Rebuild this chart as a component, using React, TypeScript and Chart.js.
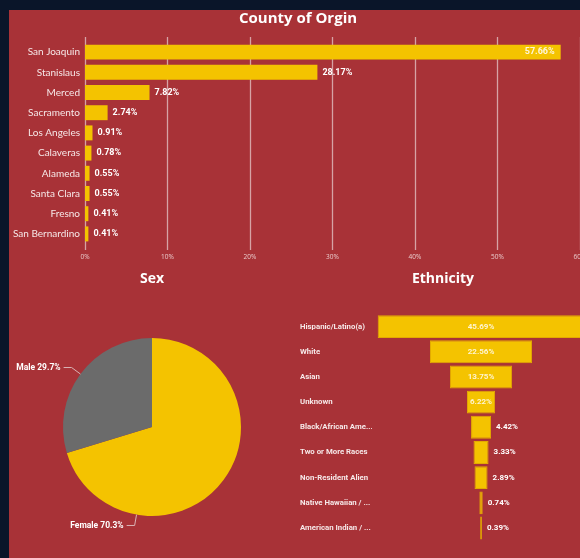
import React, { useEffect, useRef } from "react";
import { Chart, registerables } from "chart.js";

Chart.register(...registerables);

// ---------- data ----------
const countyLabels = [
  "San Joaquin",
  "Stanislaus",
  "Merced",
  "Sacramento",
  "Los Angeles",
  "Calaveras",
  "Alameda",
  "Santa Clara",
  "Fresno",
  "San Bernardino",
];
const countyValues = [57.66, 28.17, 7.82, 2.74, 0.91, 0.78, 0.55, 0.55, 0.41, 0.41];
const countyTickValues = [0, 10, 20, 30, 40, 50, 60];

const sexLabels = ["Female", "Male"];
const sexValues = [70.3, 29.7];

const ethnicityLabels = [
  "Hispanic/Latino(a)",
  "White",
  "Asian",
  "Unknown",
  "Black/African Ame...",
  "Two or More Races",
  "Non-Resident Alien",
  "Native Hawaiian / ...",
  "American Indian / ...",
];
const ethnicityValues = [45.69, 22.56, 13.75, 6.22, 4.42, 3.33, 2.89, 0.74, 0.39];

// ---------- style ----------
const BG = "#0a1529";
const RED = "#a83237";
const YELLOW = "#f4c300";
const GRAY = "#6b6b6b";
const GRID = "#d6a3a5";
const TEXT = "#f6e8e8";
const pieAnchorDeg = [190, 306.5];
// the visible panel is cropped on the right: axis runs a little past the 60% tick
const countyAxisMax = 61.94;

const countyGridPlugin = {
  id: "countyGrid",
  beforeDatasetsDraw(chart: any) {
    const { ctx, chartArea } = chart;
    const xs = chart.scales.x;
    ctx.save();
    ctx.strokeStyle = GRID;
    ctx.lineWidth = 1.3;
    xs.ticks.forEach((t: any) => {
      const px = Math.round(xs.getPixelForValue(t.value)) + 0.5;
      ctx.beginPath();
      ctx.moveTo(px, chartArea.top - 5);
      ctx.lineTo(px, chartArea.bottom + 6);
      ctx.stroke();
    });
    ctx.restore();
  },
};

const countyLabelPlugin = {
  id: "countyLabels",
  afterDatasetsDraw(chart: any) {
    const { ctx } = chart;
    const meta = chart.getDatasetMeta(0);
    const xs = chart.scales.x;
    const limit = xs.getPixelForValue(60);
    ctx.save();
    ctx.font = "bold 9px Roboto";
    ctx.textBaseline = "middle";
    meta.data.forEach((bar: any, i: number) => {
      const text = countyValues[i].toFixed(2) + "%";
      const w = ctx.measureText(text).width;
      if (bar.x + 5 + w > limit - 2) {
        ctx.fillStyle = "rgba(255,255,255,0.85)";
        ctx.textAlign = "right";
        ctx.fillText(text, bar.x - 6, bar.y);
      } else {
        ctx.fillStyle = "#ffffff";
        ctx.textAlign = "left";
        ctx.fillText(text, bar.x + 5, bar.y);
      }
    });
    ctx.restore();
  },
};

const pieLabelPlugin = {
  id: "pieLabels",
  afterDatasetsDraw(chart: any) {
    const { ctx } = chart;
    const meta = chart.getDatasetMeta(0);
    const arc0 = meta.data[0];
    if (!arc0) return;
    const cx = arc0.x;
    const cy = arc0.y;
    const r = arc0.outerRadius;
    ctx.save();
    ctx.font = "bold 8.5px Roboto";
    ctx.textBaseline = "middle";
    ctx.strokeStyle = "#d9b3b4";
    ctx.lineWidth = 1;
    ctx.fillStyle = "#ffffff";
    sexLabels.forEach((lab, i) => {
      const a = (pieAnchorDeg[i] * Math.PI) / 180;
      const ax = cx + r * Math.sin(a);
      const ay = cy - r * Math.cos(a);
      const ex = cx + (r + 11) * Math.sin(a);
      const ey = cy - (r + 11) * Math.cos(a);
      const left = Math.sin(a) < 0;
      const hx = left ? ex - 8 : ex + 8;
      ctx.beginPath();
      ctx.moveTo(ax, ay);
      ctx.lineTo(ex, ey);
      ctx.lineTo(hx, ey);
      ctx.stroke();
      const text = lab + " " + sexValues[i].toFixed(1) + "%";
      ctx.textAlign = left ? "right" : "left";
      ctx.fillText(text, left ? hx - 3 : hx + 3, ey);
    });
    ctx.restore();
  },
};

const funnelLabelPlugin = {
  id: "funnelLabels",
  afterDatasetsDraw(chart: any) {
    const { ctx } = chart;
    const meta = chart.getDatasetMeta(0);
    ctx.save();
    ctx.font = "bold 8px Roboto";
    ctx.textBaseline = "middle";
    meta.data.forEach((bar: any, i: number) => {
      const text = ethnicityValues[i].toFixed(2) + "%";
      const w = ctx.measureText(text).width;
      const l = Math.min(bar.x, bar.base);
      const rr = Math.max(bar.x, bar.base);
      const bw = rr - l;
      if (w + 4 < bw) {
        ctx.textAlign = "center";
        ctx.fillStyle = "rgba(255,250,235,0.88)";
        ctx.fillText(text, (l + rr) / 2, bar.y);
      } else {
        ctx.textAlign = "left";
        ctx.fillStyle = "#ffffff";
        ctx.fillText(text, rr + 5, bar.y);
      }
    });
    ctx.restore();
  },
};

export default function App() {
  const countyRef = useRef<HTMLCanvasElement>(null);
  const sexRef = useRef<HTMLCanvasElement>(null);
  const ethRef = useRef<HTMLCanvasElement>(null);

  useEffect(() => {
    document.body.style.margin = "0";
    const charts: Chart[] = [];

    charts.push(
      new Chart(countyRef.current as HTMLCanvasElement, {
        type: "bar",
        data: {
          labels: countyLabels,
          datasets: [
            {
              data: countyValues,
              backgroundColor: YELLOW,
              barPercentage: 0.74,
              categoryPercentage: 1,
            },
          ],
        },
        options: {
          indexAxis: "y",
          responsive: false,
          animation: false,
          layout: { padding: { left: 0, right: 0, top: 0, bottom: 0 } },
          plugins: {
            legend: { display: false },
            tooltip: { enabled: false },
            title: {
              display: true,
              text: "County of Orgin",
              color: "#ffffff",
              font: { family: "Open Sans", size: 15, weight: "bold" },
              padding: { top: 0, bottom: 14 },
            },
          },
          scales: {
            x: {
              min: 0,
              max: countyAxisMax,
              afterBuildTicks: (s: any) => {
                s.ticks = countyTickValues.map((v) => ({ value: v }));
              },
              grid: { display: false, drawTicks: false },
              border: { display: false },
              ticks: {
                color: "#e9c9ca",
                font: { family: "Open Sans", size: 6.5 },
                padding: 9,
                maxRotation: 0,
                autoSkip: false,
                callback: (v: any) => v + "%",
              },
              afterFit: (s: any) => {
                s.paddingLeft = 0;
                s.paddingRight = 0;
                s.height = 26;
              },
            },
            y: {
              grid: { display: false, drawTicks: false },
              border: { display: false },
              ticks: {
                color: TEXT,
                font: { family: "Lato", size: 10 },
                padding: 5,
                autoSkip: false,
              },
              afterFit: (s: any) => {
                s.width = 85;
                s.paddingTop = 0;
                s.paddingBottom = 0;
              },
            },
          },
        } as any,
        plugins: [countyGridPlugin, countyLabelPlugin],
      })
    );

    charts.push(
      new Chart(sexRef.current as HTMLCanvasElement, {
        type: "pie",
        data: {
          labels: sexLabels,
          datasets: [
            {
              data: sexValues,
              backgroundColor: [YELLOW, GRAY],
              borderWidth: 0,
            },
          ],
        },
        options: {
          responsive: false,
          animation: false,
          layout: { padding: { left: 54, right: 54, top: 0, bottom: 42 } },
          plugins: {
            legend: { display: false },
            tooltip: { enabled: false },
            title: {
              display: true,
              text: "Sex",
              color: "#ffffff",
              font: { family: "Open Sans", size: 14, weight: "bold" },
              padding: { top: 2.6, bottom: 50.6 },
            },
          },
        } as any,
        plugins: [pieLabelPlugin],
      })
    );

    charts.push(
      new Chart(ethRef.current as HTMLCanvasElement, {
        type: "bar",
        data: {
          labels: ethnicityLabels,
          datasets: [
            {
              data: ethnicityValues.map((v) => [-v / 2, v / 2]),
              backgroundColor: YELLOW,
              borderColor: "#e3aa00",
              borderWidth: 1,
              borderSkipped: false,
              barPercentage: 0.91,
              categoryPercentage: 1,
            },
          ],
        },
        options: {
          indexAxis: "y",
          responsive: false,
          animation: false,
          layout: { padding: { left: 10, right: 14, top: 0, bottom: 17.4 } },
          plugins: {
            legend: { display: false },
            tooltip: { enabled: false },
            title: {
              display: true,
              text: "Ethnicity",
              color: "#ffffff",
              font: { family: "Open Sans", size: 14, weight: "bold" },
              padding: { top: 2.6, bottom: 26.6 },
            },
          },
          scales: {
            x: { display: false, min: -24.1, max: 23.2 },
            y: {
              grid: { display: false, drawTicks: false },
              border: { display: false },
              ticks: {
                crossAlign: "far",
                color: TEXT,
                font: { family: "Roboto", size: 7.8, weight: "bold" },
                autoSkip: false,
              },
              afterFit: (s: any) => {
                s.width = 72;
                s.paddingTop = 0;
                s.paddingBottom = 0;
              },
            },
          },
        } as any,
        plugins: [funnelLabelPlugin],
      })
    );

    return () => {
      charts.forEach((c) => c.destroy());
    };
  }, []);

  const abs = (left: number, top: number, w: number, h: number): React.CSSProperties => ({
    position: "absolute",
    left,
    top,
    width: w,
    height: h,
    display: "block",
  });

  return (
    <div
      style={{
        position: "absolute",
        left: 0,
        top: 0,
        width: 580,
        height: 558,
        overflow: "hidden",
        background: BG,
      }}
    >
      <div style={{ ...abs(9, 10, 600, 560), background: RED }} />
      <canvas ref={countyRef} width={596} height={260} style={abs(0, 10, 596, 260)} />
      <canvas ref={sexRef} width={286} height={290} style={abs(9, 268, 286, 290)} />
      <canvas ref={ethRef} width={310} height={290} style={abs(290, 268, 310, 290)} />
    </div>
  );
}
